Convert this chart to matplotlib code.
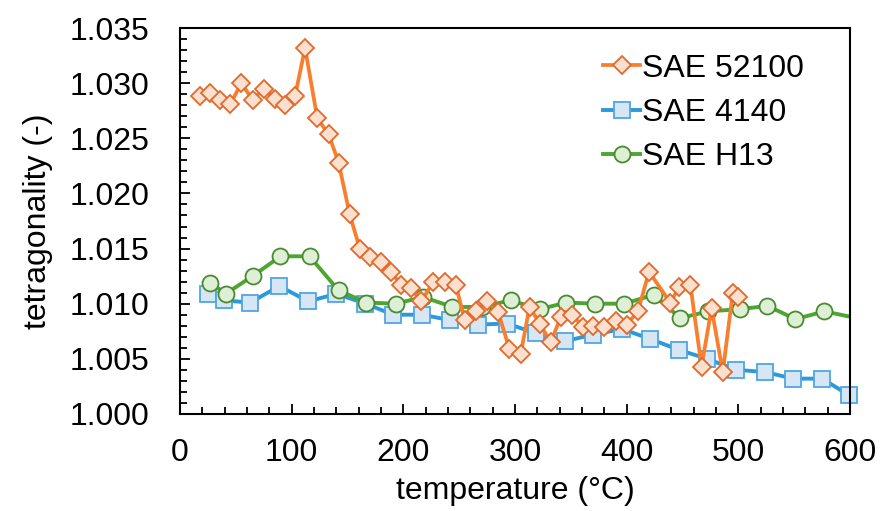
import matplotlib.pyplot as plt
from matplotlib.ticker import MultipleLocator, FormatStrFormatter

plt.rcParams['font.family'] = ['Liberation Sans', 'DejaVu Sans']

# SAE 52100
t_52100 = [18, 27, 36, 45, 55, 65, 75, 85, 94, 103, 112, 123, 133, 142, 152, 161, 170,
           180, 189, 198, 207, 216, 227, 237, 247, 255, 265, 275, 285, 295, 305, 313,
           322, 332, 341, 351, 361, 370, 380, 390, 400, 410, 420, 439, 447, 457, 467,
           476, 486, 495, 500]
v_52100 = [1.0288, 1.0291, 1.0285, 1.0281, 1.0300, 1.0285, 1.0295, 1.0286, 1.0280,
           1.0288, 1.0332, 1.0268, 1.0254, 1.0228, 1.0181, 1.0150, 1.0142, 1.0138,
           1.0129, 1.0117, 1.0114, 1.0102, 1.0120, 1.0120, 1.0117, 1.0085, 1.0093,
           1.0102, 1.0092, 1.0059, 1.0054, 1.0097, 1.0082, 1.0065, 1.0088, 1.0090,
           1.0079, 1.0080, 1.0079, 1.0084, 1.0081, 1.0093, 1.0129, 1.0101, 1.0115,
           1.0117, 1.0043, 1.0096, 1.0038, 1.0110, 1.0106]

# SAE 4140
t_4140 = [25, 39, 63, 89, 115, 140, 166, 191, 217, 242, 267, 293, 319, 345, 370, 396,
          421, 447, 472, 498, 524, 549, 575, 599]
v_4140 = [1.01085, 1.0103, 1.0101, 1.0116, 1.0102, 1.0109, 1.0100, 1.0090, 1.0090,
          1.0085, 1.0081, 1.0082, 1.0073, 1.0066, 1.0072, 1.0077, 1.0068, 1.0058,
          1.0050, 1.0040, 1.0038, 1.0032, 1.0032, 1.0017]

# SAE H13
t_h13 = [27, 41, 65, 90, 116, 142, 167, 193, 218, 244, 270, 296, 322, 346, 372, 398,
         424, 448, 473, 501, 526, 551, 577, 625]
v_h13 = [1.0119, 1.0109, 1.0125, 1.0143, 1.0143, 1.0112, 1.0101, 1.0100, 1.0106,
         1.0097, 1.0097, 1.0103, 1.0095, 1.0101, 1.0100, 1.0100, 1.0108, 1.0087,
         1.0093, 1.0095, 1.0098, 1.0086, 1.0093, 1.0083]

fig = plt.figure(figsize=(8.8, 5.11), dpi=100)
ax = fig.add_axes([0.2045, 0.19, 0.7615, 0.755])

ax.plot(t_52100, v_52100, color='#F77F2E', lw=2.7, marker='D', ms=9.5,
        mfc='#FCE0CF', mec='#E2692A', mew=1.3, label='SAE 52100', zorder=3)
ax.plot(t_4140, v_4140, color='#2C9ADA', lw=2.8, marker='s', ms=11,
        mfc='#D6E6F4', mec='#4FA6E0', mew=1.3, label='SAE 4140', zorder=2,
        clip_on=False)
ax.plot(t_h13, v_h13, color='#4DA532', lw=2.8, marker='o', ms=11.5,
        mfc='#DDEFD5', mec='#4A8A32', mew=1.3, label='SAE H13', zorder=2)

ax.set_xlim(0, 600)
ax.set_ylim(1.000, 1.035)
ax.xaxis.set_major_locator(MultipleLocator(100))
ax.xaxis.set_minor_locator(MultipleLocator(20))
ax.yaxis.set_major_locator(MultipleLocator(0.005))
ax.yaxis.set_minor_locator(MultipleLocator(0.001))
ax.yaxis.set_major_formatter(FormatStrFormatter('%.3f'))

ax.tick_params(which='both', direction='in', labelsize=23, width=1.3)
ax.tick_params(which='major', length=7)
ax.tick_params(which='minor', length=5)
ax.tick_params(axis='x', pad=17)
ax.tick_params(axis='y', pad=22)
for s in ax.spines.values():
    s.set_linewidth(1.5)

ax.set_xlabel('temperature (°C)', fontsize=23, labelpad=6)
ax.set_ylabel('tetragonality (-)', fontsize=23, labelpad=12)

ax.legend(loc='upper left', frameon=False, fontsize=23, handlelength=1.15,
          handletextpad=0.05, labelspacing=0.45, borderaxespad=0, borderpad=0,
          bbox_to_anchor=(0.632, 0.934))

fig.savefig('out.png', dpi=100)
